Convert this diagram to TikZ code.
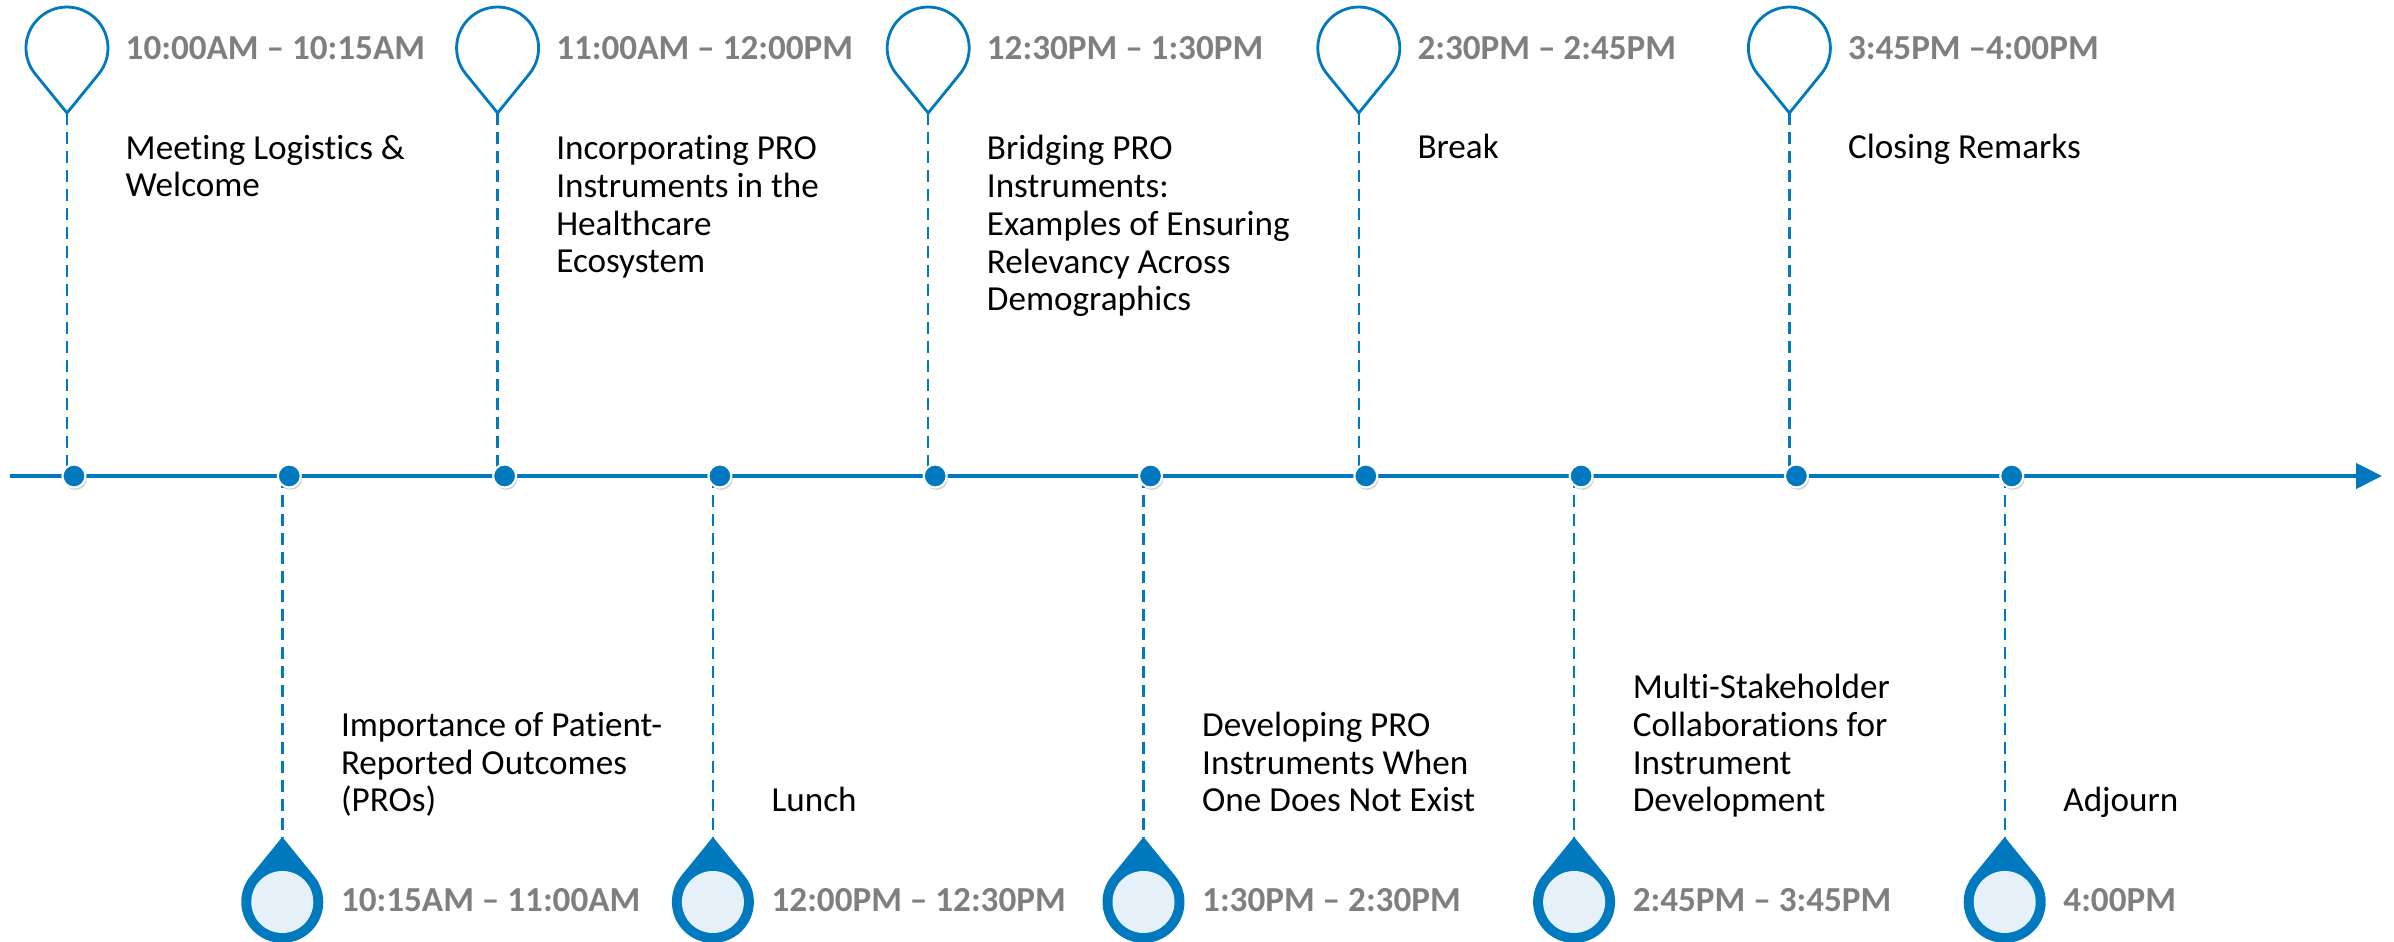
\documentclass[tikz,border=0pt]{standalone}
\usepackage{fontspec}
\setmainfont{Carlito}[Ligatures=NoCommon]
\usetikzlibrary{arrows.meta, positioning, shadows}
\definecolor{tlblue}{HTML}{0079BF}
\definecolor{tlpale}{HTML}{E5F0F8}
\definecolor{tlgray}{HTML}{7F7F7F}

\begin{document}
\begin{tikzpicture}[
        axis/.style={draw=tlblue, line width=1.15pt, -{Triangle[length=0.26cm, width=0.25cm]}},
        guide/.style={draw=tlblue, line width=0.7pt, dash pattern=on 3.4pt off 2pt},
        dot/.style={circle, fill=tlblue, draw=white, line width=0.6pt, minimum size=0.23cm, inner sep=0pt,
                    drop shadow={shadow xshift=0.4pt, shadow yshift=-0.7pt, opacity=0.35}},
        time/.style={anchor=base west, inner sep=0pt, text=tlgray, font=\fontsize{10}{10.8}\selectfont\bfseries},
        desc/.style={anchor=base west, inner sep=0pt, align=left, font=\fontsize{10}{10.8}\selectfont},
        toppin/.pic={\draw[tlblue, line width=0.8pt] (0,0) -- (0.318,0.391)
                        arc[start angle=-39.1, end angle=219.1, radius=0.41] -- cycle;},
        botpin/.pic={\fill[tlblue] (0,0) -- (0.318,-0.391)
                        arc[start angle=39.1, end angle=-219.1, radius=0.41] -- cycle;
                     \fill[tlpale] (0,-0.65) circle (0.31);}]

    \useasboundingbox (0,0) rectangle (23.94,9.42);

    % Timeline
    \coordinate (start) at (0.10,4.66);
    \coordinate (end) at (23.82,4.66);
    \draw[axis] (start) -- (end);

    % Pin tips (top row odd, bottom row even)
    \coordinate (p1) at (0.67,8.29);
    \coordinate (p2) at (2.823,1.05);
    \coordinate (p3) at (4.976,8.29);
    \coordinate (p4) at (7.129,1.05);
    \coordinate (p5) at (9.282,8.29);
    \coordinate (p6) at (11.435,1.05);
    \coordinate (p7) at (13.588,8.29);
    \coordinate (p8) at (15.741,1.05);
    \coordinate (p9) at (17.894,8.29);
    \coordinate (p10) at (20.047,1.05);

    % Pins and dashed drop lines
    \pic at (p1) {toppin};  \draw[guide] (p1) -- (p1 |- start);
    \pic at (p2) {botpin};  \draw[guide] (p2 |- start) -- (p2);
    \pic at (p3) {toppin};  \draw[guide] (p3) -- (p3 |- start);
    \pic at (p4) {botpin};  \draw[guide] (p4 |- start) -- (p4);
    \pic at (p5) {toppin};  \draw[guide] (p5) -- (p5 |- start);
    \pic at (p6) {botpin};  \draw[guide] (p6 |- start) -- (p6);
    \pic at (p7) {toppin};  \draw[guide] (p7) -- (p7 |- start);
    \pic at (p8) {botpin};  \draw[guide] (p8 |- start) -- (p8);
    \pic at (p9) {toppin};  \draw[guide] (p9) -- (p9 |- start);
    \pic at (p10) {botpin}; \draw[guide] (p10 |- start) -- (p10);

    % Dots on the line
    \node[dot] (d1) at (0.74,4.66) {};
    \node[dot] (d2) at (2.893,4.66) {};
    \node[dot] (d3) at (5.046,4.66) {};
    \node[dot] (d4) at (7.199,4.66) {};
    \node[dot] (d5) at (9.352,4.66) {};
    \node[dot] (d6) at (11.505,4.66) {};
    \node[dot] (d7) at (13.658,4.66) {};
    \node[dot] (d8) at (15.811,4.66) {};
    \node[dot] (d9) at (17.964,4.66) {};
    \node[dot] (d10) at (20.117,4.66) {};

    % Times
    \node[time] (t1) at (1.25,8.82) {10:00AM – 10:15AM};
    \node[time] (t2) at (3.403,0.30) {10:15AM – 11:00AM};
    \node[time] (t3) at (5.556,8.82) {11:00AM – 12:00PM};
    \node[time] (t4) at (7.709,0.30) {12:00PM – 12:30PM};
    \node[time] (t5) at (9.862,8.82) {12:30PM – 1:30PM};
    \node[time] (t6) at (12.015,0.30) {1:30PM – 2:30PM};
    \node[time] (t7) at (14.168,8.82) {2:30PM – 2:45PM};
    \node[time] (t8) at (16.321,0.30) {2:45PM – 3:45PM};
    \node[time] (t9) at (18.474,8.82) {3:45PM –4:00PM};
    \node[time] (t10) at (20.627,0.30) {4:00PM};

    % Sessions (anchored at the last line)
    \node[desc] (s1) at (1.25,7.45) {Meeting Logistics \&\\Welcome};
    \node[desc] (s2) at (3.403,1.30) {Importance of Patient-\\Reported Outcomes\\(PROs)};
    \node[desc] (s3) at (5.556,6.69) {Incorporating PRO\\Instruments in the\\Healthcare\\Ecosystem};
    \node[desc] (s4) at (7.709,1.30) {Lunch};
    \node[desc] (s5) at (9.862,6.31) {Bridging PRO\\Instruments:\\Examples of Ensuring\\Relevancy Across\\Demographics};
    \node[desc] (s6) at (12.015,1.30) {Developing PRO\\Instruments When\\One Does Not Exist};
    \node[desc] (s7) at (14.168,7.83) {Break};
    \node[desc] (s8) at (16.321,1.30) {Multi-Stakeholder\\Collaborations for\\Instrument\\Development};
    \node[desc] (s9) at (18.474,7.83) {Closing Remarks};
    \node[desc] (s10) at (20.627,1.30) {Adjourn};
\end{tikzpicture}
\end{document}
